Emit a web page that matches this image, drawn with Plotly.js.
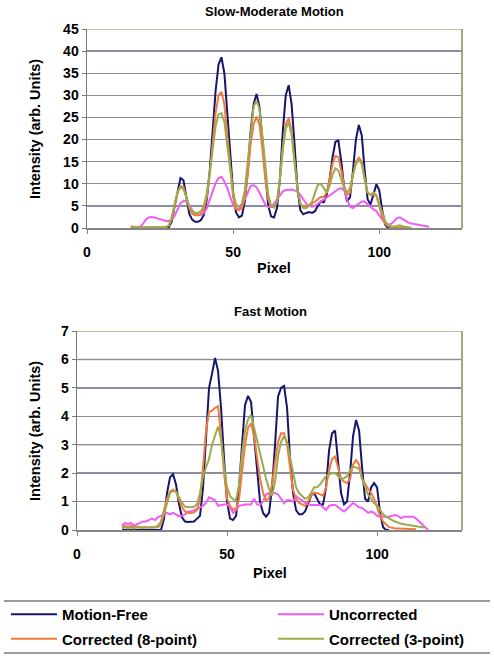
<!DOCTYPE html>
<html>
<head>
<meta charset="utf-8">
<script src="https://cdn.plot.ly/plotly-3.0.1.min.js"></script>
<style>
  html, body { margin: 0; padding: 0; background: #ffffff; }
  #chart { width: 494px; height: 659px; }
</style>
</head>
<body>
<div id="chart"></div>
<script>
// ---- Data (pixel index along the profile) ----
const pixel = [15,16,17,18,19,20,21,22,23,24,25,26,27,28,29,30,31,32,33,34,35,36,37,38,39,40,41,42,43,44,45,46,47,48,49,50,51,52,53,54,55,56,57,58,59,60,61,62,63,64,65,66,67,68,69,70,71,72,73,74,75,76,77,78,79,80,81,82,83,84,85,86,87,88,89,90,91,92,93,94,95,96,97,98,99,100,101,102,103,104,105,106,107,108,109,110,111,112,113,114,115,116,117,118];

const seriesNames = ["Motion-Free", "Uncorrected", "Corrected (8-point)", "Corrected (3-point)"];

// Slow-Moderate Motion
const slowMotionFree = [0,0,0,0,0,0,0,0,0,0, 0,0,0,0.2,1.5,5,8.5,11.3,10.8,6.5, 3.2,1.9,1.4,1.4,1.8,3,6.5,13,22,31, 37,38.6,35,26,16,8,3.5,2.4,2.8,6, 13,22,28,30.3,27.5,20,11,5,2.6,2.4, 4.5,11,22,30,32.3,28,19,9,4,3.1, 3.4,3.6,3.4,3.8,5,6,5.8,7.5,11,16, 19.5,19.8,15,9,6,7,13,20,23.3,21, 13,6.5,5.3,7.5,9.9,8.5,4,0.8,0,0, 0];
const slowUncorrected = [null,null,0,0.1,0.8,1.8,2.4,2.5,2.4,2.2, 2.0,1.8,1.6,1.6,1.9,2.8,4.3,5.6,6.1,6.1, 5.2,4.0,3.2,2.9,3.0,3.4,4.5,6.5,8.5,10.2, 11.3,11.6,10.5,9,7,5.2,4.5,4.3,5,6.5, 8.3,9.5,9.7,9.2,8,6.5,5.3,4.7,4.8,5.5, 6.5,7.5,8.3,8.6,8.7,8.7,8.5,8.2,7.5,6.5, 5.5,5,4.8,5,5.5,6,6.5,7,7.5,8, 8.5,8.8,9,8.5,6.5,4.8,4.5,5,5.5,6, 6,5.5,4.8,4.2,3.8,2.8,1.8,1.1,0.8,0.9, 1.5,2.2,2.4,2.0,1.5,1.2,1.0,0.9,0.8,0.7, 0.6,0.5,0.3];
const slowCorrected8 = [0.4,0.3,0.1,0.1,0.1,0.1,0.1,0.1,0.1,0.1, 0.1,0.1,0.2,0.5,2,5,8,9.5,9.2,7, 4.5,3.2,2.9,2.9,3.2,4.3,7,12,19,26, 30,30.8,28,21,13,7,4.3,4,4.5,7, 12,19,23.5,25.2,23.5,18,11,6.5,4.8,4.7, 6,11,18,23.5,24.8,22,15,9,5.5,4.8, 5,5.2,5.5,6,6.5,7,7,8,11,14.5, 16.3,16,13,9.5,7.5,8,12,15,15.9,15, 11,8,7.5,7.5,7.3,5,2.5,1,0.4,0.2, 0.1,0.1,0.1,0.1,0.1,0.1];
const slowCorrected3 = [0.1,0.2,0.1,0.1,0.1,0.1,0.1,0.1,0.1,0.1, 0.1,0.1,0.2,0.6,2.5,5.5,8.2,9.3,8.8,7, 4.8,3.8,3.4,3.4,3.8,5,8,12.5,18,23, 25.7,26,24,19,13,8,5.3,4.8,5.5,8.5, 15,22,27.5,28.8,27,21,13.5,7.5,5,4.6, 6,11,18,22.5,23.8,21,15,9,5.5,4.5, 4.5,5,6,8,9.8,10,9,8,9.5,12, 13.5,13,11,9,8,9,12,14.5,15.4,14.5, 11,8,7.5,8,7.5,5.5,3,1.5,0.7,0.4, 0.3,0.4,0.6,0.4,0.2,0.1,0.1];

// Fast Motion
const fastMotionFree = [0,0,0,0,0,0,0,0,0,0, 0,0,0,0,0.4,1.3,1.85,1.96,1.6,0.9, 0.45,0.3,0.28,0.28,0.3,0.4,0.5,1.5,3.5,5.0, 5.5,6.05,5.6,4.3,2.5,1.0,0.4,0.35,0.5,1.5, 3.0,4.4,4.72,4.5,3.3,2.0,1.0,0.6,0.47,0.6, 1.5,3.0,4.7,5.0,5.07,4.3,2.5,1.3,0.7,0.55, 0.55,0.65,0.9,1.2,1.3,1.1,0.9,0.9,1.5,2.8, 3.4,3.5,2.5,1.3,0.9,1.0,2.0,3.3,3.87,3.5, 2.2,1.1,1.0,1.5,1.65,1.5,0.6,0.1,0,0];
const fastUncorrected = [0.15,0.25,0.2,0.25,0.15,0.2,0.25,0.3,0.3,0.35, 0.4,0.35,0.45,0.5,0.55,0.6,0.55,0.6,0.55,0.48, 0.5,0.55,0.65,0.65,0.7,0.75,0.8,0.85,0.95,1.15, 1.1,1.05,0.85,0.88,0.9,0.9,0.8,0.6,0.7,0.85, 0.88,0.9,0.9,0.9,1.1,0.9,0.88,1.0,1.25,1.3, 1.3,1.3,1.25,1.1,0.95,1.05,1.05,1.0,1.2,1.1, 1.05,0.95,0.9,0.88,0.88,0.88,0.88,0.8,0.7,0.85, 0.88,0.88,0.8,0.7,0.65,0.75,0.85,0.95,0.88,0.8, 0.78,0.7,0.6,0.65,0.6,0.5,0.47,0.47,0.47,0.47, 0.5,0.53,0.5,0.41,0.47,0.47,0.47,0.47,0.4,0.3, 0.2,0.1,0.0];
const fastCorrected8 = [0.1,0.15,0.1,0.15,0.1,0.12,0.1,0.1,0.1,0.1, 0.1,0.1,0.15,0.3,0.7,1.1,1.35,1.42,1.35,1.1, 0.8,0.65,0.6,0.6,0.62,0.7,1.1,2.2,3.5,4.15, 4.2,4.3,4.35,3.3,2.0,1.1,0.85,0.72,0.75,1.1, 2.0,3.0,3.6,3.75,3.3,2.5,1.8,1.3,1.05,1.1, 1.6,2.4,3.1,3.4,3.4,3.0,2.2,1.4,1.1,0.95, 0.9,0.85,1.0,1.2,1.3,1.3,1.25,1.2,1.5,2.1, 2.5,2.58,2.2,1.8,1.7,1.65,1.8,2.3,2.46,2.3, 1.8,1.6,1.45,1.3,1.1,0.8,0.5,0.3,0.18,0.1, 0.08,0.05,0.05,0.05,0.05,0.05,0.05,0.05,0.03];
const fastCorrected3 = [0.05,0.1,0.05,0.1,0.05,0.1,0.08,0.08,0.08,0.08, 0.08,0.08,0.1,0.2,0.6,1.0,1.3,1.37,1.35,1.15, 0.95,0.82,0.8,0.8,0.82,0.9,1.3,1.9,2.2,2.5, 3.0,3.3,3.64,3.2,2.2,1.5,1.2,1.08,1.05,1.6, 2.7,3.5,3.9,4.05,3.6,3.1,2.6,2.2,1.8,1.45, 1.2,1.7,2.6,3.1,3.3,3.1,2.6,2.0,1.5,1.3, 1.2,1.1,1.15,1.3,1.5,1.5,1.6,1.75,1.9,1.95, 2.0,2.0,1.9,1.8,1.82,1.9,2.1,2.23,2.2,2.15, 1.8,1.5,1.25,1.1,0.95,0.87,0.7,0.55,0.47,0.4, 0.35,0.3,0.25,0.22,0.2,0.18,0.17,0.15,0.13,0.12, 0.1,0.1];

const slowTicks = [0,5,10,15,20,25,30,35,40,45];
const fastTicks = [0,1,2,3,4,5,6,7];
const xTicks = [0,50,100];

// ---- Styling ----
const colors = ["#15156c", "#f25cf2", "#f27a3e", "#9cab4c"];
const legendOf = ["legend", "legend2", "legend", "legend2"];
const FONT = "Liberation Sans, Arial, sans-serif";
const gridCol = "#8c8ca6";
const oliveGrid = "#a9ad7a";

function mk(x, y, i, xa, ya, show) {
  return {
    x: x, y: y, type: "scatter", mode: "lines",
    name: seriesNames[i], legendgroup: seriesNames[i], showlegend: show,
    legend: legendOf[i],
    line: { color: colors[i], width: 2 },
    xaxis: xa, yaxis: ya, hoverinfo: "skip"
  };
}

const traces = [
  mk(pixel, slowMotionFree, 0, "x", "y", true),
  mk(pixel, slowUncorrected, 1, "x", "y", true),
  mk(pixel, slowCorrected8, 2, "x", "y", true),
  mk(pixel, slowCorrected3, 3, "x", "y", true),
  mk(pixel, fastMotionFree, 0, "x2", "y2", false),
  mk(pixel, fastUncorrected, 1, "x2", "y2", false),
  mk(pixel, fastCorrected8, 2, "x2", "y2", false),
  mk(pixel, fastCorrected3, 3, "x2", "y2", false)
];

const W = 494, H = 659;
const px = v => v / W;
const py = v => 1 - v / H;

const tickFont = { family: FONT, size: 14, color: "#000", weight: "bold" };

function xAxis(domain, anchor) {
  return {
    domain: domain, anchor: anchor, range: [0, 128.3],
    tickvals: xTicks, ticktext: xTicks.map(String),
    showgrid: false, zeroline: false,
    showline: true, linecolor: "#858585", linewidth: 1.5,
    ticks: "outside", ticklen: 4, tickcolor: "#858585",
    ticklabelstandoff: 7,
    tickfont: tickFont, fixedrange: true
  };
}
function yAxis(domain, anchor, range, ticks) {
  return {
    domain: domain, anchor: anchor, range: range,
    tickvals: ticks, ticktext: ticks.map(String),
    showgrid: true, gridcolor: gridCol, gridwidth: 1.3,
    zeroline: false,
    showline: true, linecolor: "#7a7a7a", linewidth: 1.5,
    ticks: "outside", ticklen: 4, tickcolor: "#7a7a7a",
    tickfont: tickFont, fixedrange: true
  };
}

const titleFont = { family: FONT, size: 13, color: "#000", weight: "bold" };
const axTitleFont = { family: FONT, size: 14.5, color: "#000", weight: "bold" };
const legendFont = { family: FONT, size: 15, color: "#000", weight: "bold" };

function hline(xref, yref, yv, col) {
  return { type: "line", xref: xref + " domain", yref: yref, x0: 0, x1: 1, y0: yv, y1: yv,
           line: { color: col, width: 1.5 }, layer: "below" };
}
function legendBox(xpix) {
  return {
    orientation: "v", x: px(xpix), y: py(598), xanchor: "left", yanchor: "top",
    font: legendFont, bgcolor: "rgba(0,0,0,0)", borderwidth: 0,
    traceorder: "grouped", tracegroupgap: 2, itemwidth: 46
  };
}

const layout = {
  width: W, height: H,
  margin: { l: 0, r: 0, t: 0, b: 0 },
  paper_bgcolor: "#ffffff", plot_bgcolor: "#ffffff",
  showlegend: true,
  xaxis: xAxis([px(87), px(462)], "y"),
  yaxis: yAxis([py(228), py(29)], "x", [0, 45], slowTicks),
  xaxis2: xAxis([px(77), px(462)], "y2"),
  yaxis2: yAxis([py(530), py(331)], "x2", [0, 7], fastTicks),
  legend: legendBox(6),
  legend2: legendBox(273),
  shapes: [
    hline("x", "y", 5, oliveGrid),
    hline("x", "y", 45, oliveGrid),
    hline("x2", "y2", 3, oliveGrid),
    hline("x2", "y2", 6, oliveGrid),
    hline("x2", "y2", 7, oliveGrid),
    { type: "line", xref: "x domain", yref: "y domain", x0: 1, x1: 1, y0: 0, y1: 1,
      line: { color: "#a4a67e", width: 2 } },
    { type: "line", xref: "x2 domain", yref: "y2 domain", x0: 1, x1: 1, y0: 0, y1: 1,
      line: { color: "#a4a67e", width: 2 } },
    { type: "line", xref: "paper", yref: "paper", x0: px(4), x1: px(490), y0: py(601), y1: py(601),
      line: { color: "#9c9c9c", width: 2 } },
    { type: "line", xref: "paper", yref: "paper", x0: px(4), x1: px(490), y0: py(653), y1: py(653),
      line: { color: "#9c9c9c", width: 2 } }
  ],
  annotations: [
    { text: "Slow-Moderate Motion", xref: "paper", yref: "paper", x: px(274), y: py(12),
      xanchor: "center", yanchor: "middle", showarrow: false, font: titleFont },
    { text: "Fast Motion", xref: "paper", yref: "paper", x: px(270), y: py(312),
      xanchor: "center", yanchor: "middle", showarrow: false, font: titleFont },
    { text: "Intensity (arb. Units)", xref: "paper", yref: "paper", x: px(35), y: py(129),
      xanchor: "center", yanchor: "middle", textangle: -90, showarrow: false, font: axTitleFont },
    { text: "Intensity (arb. Units)", xref: "paper", yref: "paper", x: px(35), y: py(431),
      xanchor: "center", yanchor: "middle", textangle: -90, showarrow: false, font: axTitleFont },
    { text: "Pixel", xref: "paper", yref: "paper", x: px(274), y: py(268),
      xanchor: "center", yanchor: "middle", showarrow: false, font: axTitleFont },
    { text: "Pixel", xref: "paper", yref: "paper", x: px(270), y: py(573),
      xanchor: "center", yanchor: "middle", showarrow: false, font: axTitleFont }
  ]
};

Plotly.newPlot("chart", traces, layout, { staticPlot: true, displayModeBar: false });
</script>
</body>
</html>
